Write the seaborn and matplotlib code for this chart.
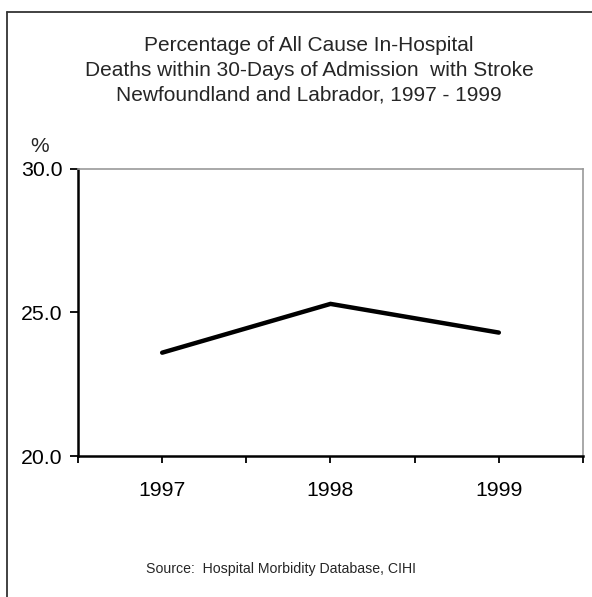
import matplotlib
matplotlib.use("Agg")
import matplotlib.pyplot as plt
import seaborn as sns
import pandas as pd
from matplotlib.lines import Line2D
from matplotlib.ticker import FixedLocator

years = ["1997", "1998", "1999"]
pct_deaths = [23.6, 25.3, 24.3]
y_ticks = [20.0, 25.0, 30.0]

title = ("Percentage of All Cause In-Hospital\n"
         "Deaths within 30-Days of Admission  with Stroke\n"
         "Newfoundland and Labrador, 1997 - 1999")
source = "Source:  Hospital Morbidity Database, CIHI"

sns.set_style("white")
plt.rcParams['font.family'] = ['Liberation Sans', 'DejaVu Sans']

df = pd.DataFrame({"year": years, "pct": pct_deaths})

fig = plt.figure(figsize=(5.92, 5.97), dpi=100)
ax = fig.add_axes([78 / 592, 1 - 456 / 597, 505 / 592, 287 / 597])

sns.lineplot(data=df, x="year", y="pct", ax=ax, color="black", linewidth=3.2,
             solid_capstyle="round", solid_joinstyle="miter")

ax.set_xlim(-0.5, len(years) - 0.5)
ax.set_ylim(20, 30)
ax.set_yticks(y_ticks)
ax.set_yticklabels([f"{v:.1f}" for v in y_ticks])
ax.xaxis.set_minor_locator(FixedLocator([i - 0.5 for i in range(len(years) + 1)]))
ax.set_xlabel("")
ax.set_ylabel("")

ax.tick_params(axis="both", which="both", direction="out", color="black",
               width=1.3, labelsize=15.3, labelcolor="black",
               bottom=True, left=True)
ax.tick_params(axis="x", which="major", length=5, pad=13)
ax.tick_params(axis="x", which="minor", length=5)
ax.tick_params(axis="y", which="major", length=6, pad=5)

for side in ["left", "bottom"]:
    ax.spines[side].set_color("black")
    ax.spines[side].set_linewidth(1.8)
for side in ["top", "right"]:
    ax.spines[side].set_color("#999999")
    ax.spines[side].set_linewidth(1.2)

fig.text(309 / 592, 1 - 70 / 597, title, ha="center", va="center",
         fontsize=15, linespacing=1.38)
fig.text(40 / 592, 1 - 146 / 597, "%", ha="center", va="center", fontsize=15)
fig.text(281 / 592, 1 - 569 / 597, source, ha="center", va="center", fontsize=10.2)

# outer frame (top and left edges visible in the reference)
fig.add_artist(Line2D([7 / 592, 1], [1 - 11.5 / 597] * 2, transform=fig.transFigure,
                      color="#333333", linewidth=1.3))
fig.add_artist(Line2D([7 / 592] * 2, [0, 1 - 11.5 / 597], transform=fig.transFigure,
                      color="#333333", linewidth=1.3))

fig.savefig("out.png", dpi=100)
